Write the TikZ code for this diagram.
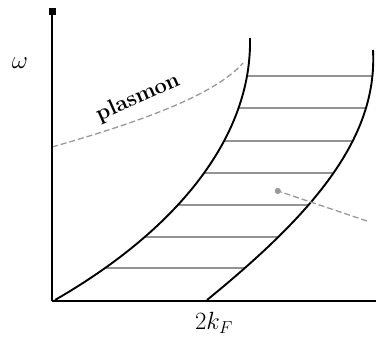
\documentclass[tikz,border=0pt]{standalone}
\usetikzlibrary{arrows.meta}
\begin{document}
\begin{tikzpicture}[x=1pt,y=-1pt,
  axis/.style={line width=2.6pt,black},
  bound/.style={line width=1.9pt,black},
  hline/.style={line width=1.8pt,gray!85},
  dashgray/.style={line width=1.3pt,gray!80,dash pattern=on 6pt off 3pt},
  lbl/.style={inner sep=0pt,font=\fontsize{26}{30}\selectfont}]
\useasboundingbox (0,0) rectangle (376,341);
% boundary points
\coordinate (la) at (55,300);
\coordinate (lb) at (250,38);
\coordinate (ra) at (207,300);
\coordinate (rb) at (373,50);
% hatch lines between the two boundaries
\begin{scope}
  \clip (la) .. controls (180,228) and (252,135) .. (lb)
     -- (rb) .. controls (378,140) and (310,216) .. (ra) -- cycle;
  \foreach \yy in {76,108,141,173,205,237,268}
    \draw[hline] (40,\yy) -- (380,\yy);
\end{scope}
% boundaries
\draw[bound] (la) .. controls (180,228) and (252,135) .. (lb);
\draw[bound] (ra) .. controls (310,216) and (378,140) .. (rb);
% plasmon
\coordinate (pa) at (52,147);
\coordinate (pb) at (243,63);
\draw[dashgray] (pa) .. controls (140,122) and (215,95) .. (pb);
% axes
\coordinate (O) at (52,301);
\coordinate (ytop) at (52,10);
\coordinate (xend) at (376,301);
\draw[axis] (O) -- (ytop);
\fill (48.5,8) rectangle (55.5,15);
\draw[axis] (O) -- (xend);
% pointer
\coordinate (pfrom) at (367,221);
\coordinate (pto) at (275,190);
\draw[dashgray,-{Circle[length=6pt]}] (pfrom) -- (pto);
% labels
\node[lbl] (w) at (20,63) {$\omega$};
\node[lbl] (kf) at (214,323) {$2k_F$};
\node[lbl,font=\fontsize{22}{26}\selectfont\bfseries,rotate=24] (pl) at (138,98) {plasmon};
\end{tikzpicture}
\end{document}
